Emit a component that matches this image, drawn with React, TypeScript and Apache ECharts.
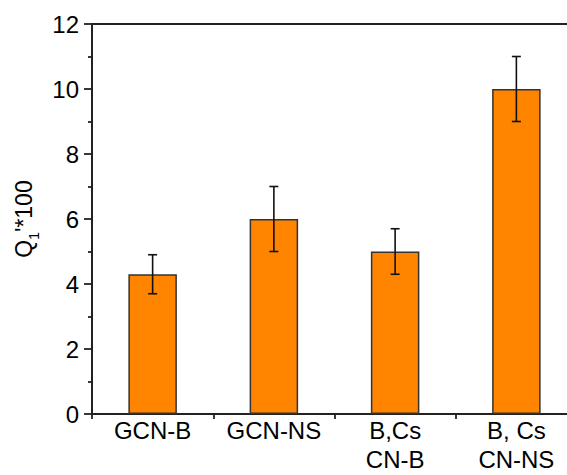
import React, { useEffect, useRef } from "react";
import * as echarts from "echarts";

const categories = ["GCN-B", "GCN-NS", "B,Cs\nCN-B", "B, Cs\nCN-NS"];
const values = [4.3, 6.0, 5.0, 10.0];
const errors = [0.6, 1.0, 0.7, 1.0];
const yTicks = { min: 0, max: 12, interval: 2 };

const FONT = "Arial, 'Liberation Sans', sans-serif";
const LINE = "#222";

export default function App() {
  const ref = useRef<HTMLDivElement>(null);
  useEffect(() => {
    if (!ref.current) return;
    const chart = echarts.init(ref.current, null, { renderer: "svg" });
    const errData = values.map((v, i) => [i, v - errors[i], v + errors[i]]);
    chart.setOption({
      animation: false,
      backgroundColor: "#fff",
      grid: {
        left: 92,
        top: 24,
        width: 485,
        height: 390,
        outerBoundsMode: "none",
        containLabel: false,
        show: true,
        borderColor: LINE,
        borderWidth: 2,
        backgroundColor: "transparent",
      },
      xAxis: [
        {
          type: "category",
          data: categories,
          position: "bottom",
          axisLine: { lineStyle: { color: LINE, width: 2 } },
          axisTick: { show: true, length: 5, inside: false, lineStyle: { color: LINE, width: 1.8 } },
          axisLabel: {
            color: "#000",
            fontSize: 24,
            fontFamily: FONT,
            lineHeight: 29,
            margin: 2,
            interval: 0,
          },
        },
        {
          type: "category",
          data: categories,
          position: "bottom",
          axisLine: { show: false },
          axisTick: { show: true, alignWithLabel: true, inside: true, length: 5, lineStyle: { color: LINE, width: 1.8 } },
          axisLabel: { show: false },
        },
      ],
      yAxis: {
        type: "value",
        min: yTicks.min,
        max: yTicks.max,
        interval: yTicks.interval,
        name: "{q|Q}{sub|1}{q|'*100}",
        nameLocation: "middle",
        nameRotate: 90,
        nameGap: 50,
        nameTextStyle: {
          rich: {
            q: { fontSize: 23, fontFamily: FONT, color: "#000", lineHeight: 28, verticalAlign: "bottom" },
            sub: { fontSize: 14, fontFamily: FONT, color: "#000", lineHeight: 28, verticalAlign: "bottom", padding: [0, 0, -6, 0] },
          },
        },
        axisLine: { show: true, lineStyle: { color: LINE, width: 2 } },
        axisTick: { show: true, length: 8, inside: false, lineStyle: { color: LINE, width: 1.8 } },
        minorTick: { show: true, splitNumber: 2, length: 4, lineStyle: { color: LINE, width: 1.8 } },
        splitLine: { show: false },
        axisLabel: { color: "#000", fontSize: 24, fontFamily: FONT, margin: 13 },
      },
      series: [
        {
          type: "bar",
          data: values,
          barWidth: "40%",
          itemStyle: { color: "#FF8400", borderColor: "#333", borderWidth: 1.5 },
        },
        {
          type: "custom",
          data: errData,
          z: 10,
          renderItem: (params: any, api: any) => {
            const i = api.value(0);
            const lo = api.coord([i, api.value(1)]);
            const hi = api.coord([i, api.value(2)]);
            const hw = 4.5;
            const style = { stroke: "#111", lineWidth: 1.6 };
            return {
              type: "group",
              children: [
                { type: "line", shape: { x1: hi[0], y1: hi[1], x2: lo[0], y2: lo[1] }, style },
                { type: "line", shape: { x1: hi[0] - hw, y1: hi[1], x2: hi[0] + hw, y2: hi[1] }, style },
                { type: "line", shape: { x1: lo[0] - hw, y1: lo[1], x2: lo[0] + hw, y2: lo[1] }, style },
              ],
            };
          },
        },
      ],
    });
    return () => chart.dispose();
  }, []);
  return (
    <div
      ref={ref}
      style={{ position: "fixed", left: 0, top: 0, width: 567, height: 475 }}
    />
  );
}
